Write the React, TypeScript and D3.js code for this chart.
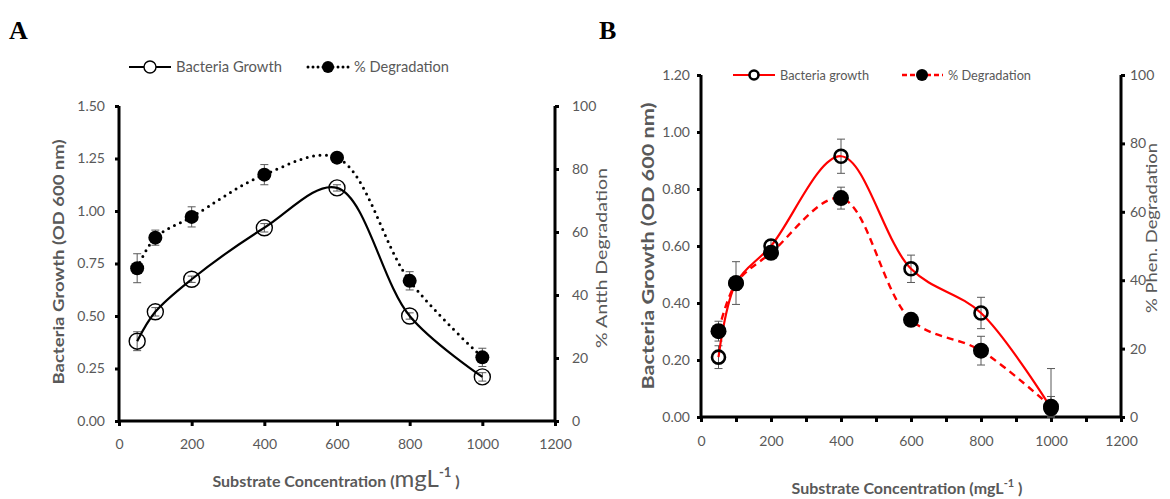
import React, { useEffect, useRef } from 'react'
import * as d3 from 'd3'

// substrate concentrations (mg/L)
const concentrations = [50, 100, 200, 400, 600, 800, 1000]

// panel A - anthracene
const growthA = [0.38, 0.52, 0.675, 0.92, 1.11, 0.5, 0.21]
const growthAErr = [0.045, 0.02, 0.015, 0.02, 0.015, 0.015, 0.02]
const degradationA = [48.5, 58.2, 64.8, 78.2, 83.6, 44.5, 20.2]
const degradationAErr = [4.6, 2.4, 3.2, 3.2, 1.5, 2.9, 2.9]

// panel B - phenanthrene
const growthB = [0.21, 0.47, 0.6, 0.915, 0.52, 0.365, 0.03]
const growthBErr = [0.04, 0.075, 0.02, 0.06, 0.048, 0.055, 0.14]
const degradationB = [25.1, 39.1, 48.0, 64.0, 28.4, 19.4, 3.0]
const degradationBErr = [2.9, 2.0, 1.5, 3.2, 1.5, 4.2, 3.0]

const leftTicksA = [0, 0.25, 0.5, 0.75, 1.0, 1.25, 1.5]
const leftTicksB = [0, 0.2, 0.4, 0.6, 0.8, 1.0, 1.2]
const rightTicks = [0, 20, 40, 60, 80, 100]

const GREY = '#595959'
const FONT = 'Lato, "Open Sans", sans-serif'

type Panel = {
  letter: string
  x0: number
  x1: number
  y0: number
  y1: number
  yMax: number
  leftTicks: number[]
  xStep: number
  growth: number[]
  growthErr: number[]
  deg: number[]
  degErr: number[]
  color: string
  dash: string
  leftTitle: string
  rightTitle: string
}

const panels: Panel[] = [
  {
    letter: 'A', x0: 119, x1: 555, y0: 106, y1: 421, yMax: 1.5, leftTicks: leftTicksA, xStep: 200,
    growth: growthA, growthErr: growthAErr, deg: degradationA, degErr: degradationAErr,
    color: '#000', dash: '0 6.5', leftTitle: 'Bacteria Growth (OD 600 nm)', rightTitle: '%  Antth Degradation',
  },
  {
    letter: 'B', x0: 701, x1: 1121, y0: 75, y1: 417, yMax: 1.2, leftTicks: leftTicksB, xStep: 100,
    growth: growthB, growthErr: growthBErr, deg: degradationB, degErr: degradationBErr,
    color: '#ff0000', dash: '7 5', leftTitle: 'Bacteria Growth (OD 600 nm)', rightTitle: '% Phen. Degradation',
  },
]

// rotated title placement: [baseline x, centre y, length, font size]
const leftTitlePos = [[64, 262, 245, 15], [654, 246, 287, 17]]
const rightTitlePos = [[607, 258, 180, 15], [1157, 228, 170, 15]]

export default function App() {
  const ref = useRef<SVGSVGElement>(null)

  useEffect(() => {
    const svg = d3.select(ref.current)
    svg.selectAll('*').remove()

    panels.forEach((p, pi) => {
      const x = d3.scaleLinear().domain([0, 1200]).range([p.x0, p.x1])
      const yL = d3.scaleLinear().domain([0, p.yMax]).range([p.y1, p.y0])
      const yR = d3.scaleLinear().domain([0, 100]).range([p.y1, p.y0])
      const g = svg.append('g')

      // panel letter
      g.append('text')
        .attr('x', pi === 0 ? 9 : 599)
        .attr('y', 39)
        .attr('font-family', '"Liberation Serif", serif')
        .attr('font-weight', 'bold')
        .attr('font-size', 26)
        .text(p.letter)

      // x axis
      const xTicks = d3.range(0, 1201, p.xStep)
      const xAxis = g.append('g')
        .attr('transform', `translate(0,${p.y1})`)
        .call(d3.axisBottom(x).tickValues(xTicks).tickSize(5).tickPadding(pi === 0 ? 13 : 14)
          .tickFormat(d => (+d % 200 === 0 ? String(d) : '')))
      // left axis
      const lAxis = g.append('g')
        .attr('transform', `translate(${p.x0},0)`)
        .call(d3.axisLeft(yL).tickValues(p.leftTicks).tickSize(4).tickPadding(pi === 0 ? 10 : 7)
          .tickFormat(d3.format('.2f')))
      // right axis
      const rAxis = g.append('g')
        .attr('transform', `translate(${p.x1},0)`)
        .call(d3.axisRight(yR).tickValues(rightTicks).tickSize(4).tickPadding(pi === 0 ? 13 : 5))

      ;[xAxis, lAxis, rAxis].forEach(a => {
        a.select('.domain').attr('stroke', '#000').attr('stroke-width', 3)
        a.selectAll('.tick line').attr('stroke', '#000').attr('stroke-width', 3)
        a.selectAll('.tick text')
          .attr('fill', GREY)
          .attr('font-family', FONT)
          .attr('font-size', 14)
      })
      xAxis.select('.domain').attr('d', `M${p.x0},0H${p.x1}`)
      lAxis.select('.domain').attr('d', `M0,${p.y1}V${p.y0}`)
      rAxis.select('.domain').attr('d', `M0,${p.y1}V${p.y0}`)

      // axis titles
      const [lx, lcy, llen, lfs] = leftTitlePos[pi]
      g.append('text')
        .attr('transform', `translate(${lx},${lcy}) rotate(-90)`)
        .attr('text-anchor', 'middle')
        .attr('fill', GREY)
        .attr('font-family', FONT)
        .attr('font-weight', 'bold')
        .attr('font-size', lfs)
        .attr('textLength', llen)
        .attr('lengthAdjust', 'spacingAndGlyphs')
        .text(p.leftTitle)
      const [rx, rcy, rlen, rfs] = rightTitlePos[pi]
      g.append('text')
        .attr('transform', `translate(${rx},${rcy}) rotate(-90)`)
        .attr('text-anchor', 'middle')
        .attr('fill', GREY)
        .attr('font-family', FONT)
        .attr('font-size', rfs)
        .attr('textLength', rlen)
        .attr('lengthAdjust', 'spacingAndGlyphs')
        .text(p.rightTitle)

      const xt = g.append('text')
        .attr('x', pi === 0 ? 336 : 907)
        .attr('y', pi === 0 ? 487 : 494)
        .attr('text-anchor', 'middle')
        .attr('fill', GREY)
        .attr('font-family', FONT)
        .attr('font-weight', 'bold')
        .attr('font-size', 16)
      xt.append('tspan').text('Substrate Concentration (')
      xt.append('tspan').attr('font-size', pi === 0 ? 24 : 16).attr('font-weight', pi === 0 ? 'normal' : 'bold').text('mgL')
      xt.append('tspan').attr('font-size', pi === 0 ? 13 : 11).attr('dy', pi === 0 ? -10 : -7).text('-1')
      xt.append('tspan').attr('dy', pi === 0 ? 10 : 7).text(' )')

      const curve = d3.curveCatmullRom.alpha(0.5)
      const growthLine = d3.line<number>().x((_, i) => x(concentrations[i])).y(d => yL(d)).curve(curve)
      const degLine = d3.line<number>().x((_, i) => x(concentrations[i])).y(d => yR(d)).curve(curve)

      // error bars
      const errBars = (vals: number[], errs: number[], y: d3.ScaleLinear<number, number>, lo: number) => {
        vals.forEach((v, i) => {
          const cx = x(concentrations[i])
          const top = y(v + errs[i])
          const bot = y(Math.max(lo, v - errs[i]))
          g.append('path')
            .attr('d', `M${cx},${top}V${bot}M${cx - 4},${top}H${cx + 4}M${cx - 4},${bot}H${cx + 4}`)
            .attr('stroke', GREY)
            .attr('stroke-width', 1)
            .attr('fill', 'none')
        })
      }
      errBars(p.growth, p.growthErr, yL, 0)
      errBars(p.deg, p.degErr, yR, 0)

      // growth line + open circles
      g.append('path')
        .attr('d', growthLine(p.growth))
        .attr('fill', 'none')
        .attr('stroke', p.color)
        .attr('stroke-width', 2.2)
      g.selectAll('.gc')
        .data(p.growth)
        .enter().append('circle')
        .attr('cx', (_, i) => x(concentrations[i]))
        .attr('cy', d => yL(d))
        .attr('r', pi === 0 ? 8 : 6.5)
        .attr('fill', 'none')
        .attr('stroke', '#000')
        .attr('stroke-width', pi === 0 ? 1.4 : 2.6)

      // degradation line + filled dots
      g.append('path')
        .attr('d', degLine(p.deg))
        .attr('fill', 'none')
        .attr('stroke', p.color)
        .attr('stroke-width', pi === 0 ? 3 : 2.4)
        .attr('stroke-dasharray', p.dash)
        .attr('stroke-linecap', pi === 0 ? 'round' : 'butt')
      g.selectAll('.dc')
        .data(p.deg)
        .enter().append('circle')
        .attr('cx', (_, i) => x(concentrations[i]))
        .attr('cy', d => yR(d))
        .attr('r', pi === 0 ? 7 : 8)
        .attr('fill', '#000')

      // legend
      const ly = pi === 0 ? 67 : 75
      const l1 = pi === 0 ? 129 : 733
      const l2 = pi === 0 ? 308 : 902
      const lfsz = pi === 0 ? 15 : 13.5
      g.append('line').attr('x1', l1).attr('x2', l1 + 42).attr('y1', ly).attr('y2', ly)
        .attr('stroke', p.color).attr('stroke-width', 2.2)
      g.append('circle').attr('cx', l1 + 21).attr('cy', ly).attr('r', pi === 0 ? 6 : 4.5)
        .attr('fill', '#fff').attr('stroke', '#000').attr('stroke-width', pi === 0 ? 1.4 : 2.6)
      g.append('text').attr('x', l1 + 47).attr('y', ly + 5)
        .attr('fill', GREY).attr('font-family', FONT).attr('font-size', lfsz)
        .attr('textLength', pi === 0 ? 106 : 89).attr('lengthAdjust', 'spacingAndGlyphs')
        .text(pi === 0 ? 'Bacteria Growth' : 'Bacteria growth')
      g.append('line').attr('x1', l2).attr('x2', l2 + 41).attr('y1', ly).attr('y2', ly)
        .attr('stroke', p.color).attr('stroke-width', pi === 0 ? 3 : 2.4)
        .attr('stroke-dasharray', pi === 0 ? '0 5' : '5 3')
        .attr('stroke-linecap', pi === 0 ? 'round' : 'butt')
      g.append('circle').attr('cx', l2 + 20).attr('cy', ly).attr('r', 6).attr('fill', '#000')
      g.append('text').attr('x', l2 + 46).attr('y', ly + 5)
        .attr('fill', GREY).attr('font-family', FONT).attr('font-size', lfsz)
        .attr('textLength', pi === 0 ? 95 : 83).attr('lengthAdjust', 'spacingAndGlyphs')
        .text('% Degradation')
    })
  }, [])

  return (
    <svg ref={ref} width={1170} height={499}
      style={{ position: 'absolute', left: 0, top: 0, background: '#fff' }} />
  )
}
